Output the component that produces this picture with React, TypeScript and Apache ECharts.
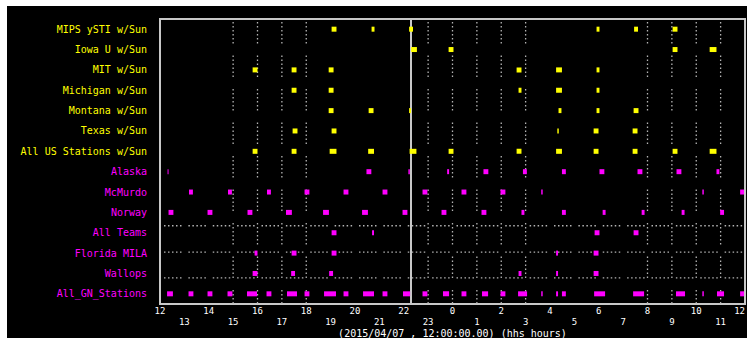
import React, { useEffect, useRef } from 'react';
import * as echarts from 'echarts';

// Row labels (top to bottom)
const rowLabels = [
  'MIPS ySTI w/Sun',
  'Iowa U w/Sun',
  'MIT w/Sun',
  'Michigan w/Sun',
  'Montana w/Sun',
  'Texas w/Sun',
  'All US Stations w/Sun',
  'Alaska',
  'McMurdo',
  'Norway',
  'All Teams',
  'Florida MILA',
  'Wallops',
  'All_GN_Stations',
];
const sunRowCount = 7;

// Passes: [start, end] in hours after 12:00
const passesMips = [[7.04, 7.24], [8.68, 8.8], [10.22, 10.38], [17.91, 18.03], [19.45, 19.61], [21.03, 21.23]];
const passesIowa = [[10.3, 10.54], [11.84, 12.04], [21.03, 21.23], [22.55, 22.83]];
const passesMit = [[3.8, 4.0], [5.4, 5.6], [6.92, 7.12], [14.63, 14.83], [16.25, 16.49], [17.91, 18.03]];
const passesMichigan = [[5.4, 5.6], [6.92, 7.12], [14.71, 14.83], [16.25, 16.49], [17.91, 18.03]];
const passesMontana = [[6.92, 7.12], [8.56, 8.76], [10.22, 10.3], [16.35, 16.47], [17.91, 18.03], [19.43, 19.63]];
const passesTexas = [[5.44, 5.64], [7.04, 7.24], [16.3, 16.36], [17.79, 17.99], [19.39, 19.59]];
const passesAllUS = [[3.8, 4.0], [5.4, 5.6], [6.96, 7.24], [8.54, 8.78], [10.24, 10.52], [11.84, 12.04], [14.63, 14.83], [16.25, 16.49], [17.79, 17.99], [19.39, 19.59], [21.03, 21.23], [22.55, 22.83]];
const passesAlaska = [[0.31, 0.35], [8.47, 8.67], [10.19, 10.25], [11.78, 11.86], [13.27, 13.47], [14.89, 15.05], [16.49, 16.65], [18.03, 18.23], [19.59, 19.79], [21.19, 21.39], [22.83, 22.95]];
const passesMcMurdo = [[1.19, 1.35], [2.79, 2.95], [4.39, 4.55], [5.93, 6.13], [7.53, 7.73], [9.13, 9.33], [10.77, 10.97], [12.37, 12.57], [13.97, 14.17], [15.64, 15.7], [22.25, 22.31], [23.8, 23.96]];
const passesNorway = [[0.35, 0.55], [1.95, 2.15], [3.59, 3.79], [5.17, 5.41], [6.69, 6.93], [8.29, 8.53], [9.95, 10.15], [11.55, 11.75], [13.19, 13.39], [14.83, 14.95], [16.49, 16.65], [18.16, 18.28], [19.76, 19.88], [21.4, 21.52], [22.98, 23.14]];
const passesAllTeams = [[7.04, 7.24], [8.7, 8.78], [17.83, 18.03], [19.43, 19.63]];
const passesFlorida = [[3.88, 4.0], [5.4, 5.6], [7.04, 7.24], [16.25, 16.33], [17.79, 17.99]];
const passesWallops = [[3.8, 4.0], [5.38, 5.54], [6.94, 7.1], [14.71, 14.83], [16.25, 16.33], [17.79, 17.99]];
const passesAllGN = [[0.29, 0.53], [1.17, 1.37], [1.95, 2.15], [2.77, 2.97], [3.57, 3.98], [4.37, 4.57], [5.21, 5.62], [5.93, 6.13], [6.73, 7.22], [7.53, 7.73], [8.33, 8.78], [9.13, 9.33], [9.97, 10.26], [10.77, 10.97], [11.61, 11.86], [12.37, 12.57], [13.21, 13.46], [13.97, 14.17], [14.69, 15.06], [15.64, 15.7], [16.25, 16.33], [16.49, 16.65], [17.81, 18.26], [19.41, 19.86], [21.17, 21.54], [22.25, 22.31], [22.85, 23.14], [23.8, 23.96]];

const passesByRow = [
  passesMips, passesIowa, passesMit, passesMichigan, passesMontana, passesTexas, passesAllUS,
  passesAlaska, passesMcMurdo, passesNorway, passesAllTeams, passesFlorida, passesWallops, passesAllGN,
];

// Hours (after 12:00) with dotted vertical guide lines
const dottedHours = [3, 4, 5, 6, 11, 12, 13, 14, 15, 20, 21, 22, 23];
// Rows with a dotted horizontal guide line
const dottedRows = [10, 11, 12];
// Current time marker (hours after 12:00)
const nowHour = 10.3;

const axisTitle = '(2015/04/07 , 12:00:00.00) (hhs hours)';

const YELLOW = '#ffff00';
const MAGENTA = '#ff00ff';
const GUIDE = '#b4b4b4';
const MONO = '"DejaVu Sans Mono", monospace';

export default function App() {
  const ref = useRef<HTMLDivElement>(null);

  useEffect(() => {
    if (!ref.current) return;
    const chart = echarts.init(ref.current, undefined, { renderer: 'svg' });

    const sunData: number[][] = [];
    const gnData: number[][] = [];
    passesByRow.forEach((passes, row) => {
      passes.forEach(([s, e]) => {
        (row < sunRowCount ? sunData : gnData).push([row, s, e]);
      });
    });

    const barRender = (color: string) => (params: any, api: any) => {
      const row = api.value(0);
      const p0 = api.coord([api.value(1), row]);
      const p1 = api.coord([api.value(2), row]);
      const h = 5;
      return {
        type: 'rect',
        shape: { x: p0[0], y: p0[1] - h / 2, width: Math.max(p1[0] - p0[0], 1), height: h },
        style: { fill: color },
      };
    };

    const vDash = [1.5, 2.5, 1.5, 2.5, 1.5, 2.5, 1.5, 2.5, 1.5, 2.5, 1.5, 12];
    const hDash = [1.5, 2.5, 1.5, 2.5, 1.5, 2.5, 1.5, 2.5, 1.5, 6.875];
    const hOffsets = [-7, -1, 4.5];

    chart.setOption({
      animation: false,
      backgroundColor: '#000',
      grid: {
        left: 153,
        top: 13,
        width: 585,
        height: 285,
        show: true,
        borderColor: '#c8c8c8',
        borderWidth: 2,
        backgroundColor: 'transparent',
        containLabel: false,
        outerBoundsMode: 'none',
      },
      xAxis: {
        type: 'value',
        min: 0,
        max: 24,
        interval: 1,
        axisLine: { show: false },
        axisTick: { show: false },
        splitLine: { show: false },
        axisLabel: {
          color: '#fff',
          fontFamily: MONO,
          fontSize: 9,
          lineHeight: 11,
          margin: 1,
          showMinLabel: true,
          showMaxLabel: true,
          alignMaxLabel: 'right',
          formatter: (v: number) => {
            const hr = (12 + Math.round(v)) % 24;
            return hr % 2 === 1 ? '\n' + hr : String(hr);
          },
        },
        name: axisTitle,
        nameLocation: 'middle',
        nameGap: 29,
        nameMoveOverlap: false,
        nameTextStyle: { color: '#fff', fontFamily: MONO, fontSize: 10, verticalAlign: 'middle' },
      },
      yAxis: {
        type: 'category',
        data: rowLabels,
        inverse: true,
        axisLine: { show: false },
        axisTick: { show: false },
        splitLine: { show: false },
        axisLabel: {
          margin: 13,
          fontFamily: MONO,
          fontSize: 10,
          formatter: (v: string, i: number) => (i < sunRowCount ? `{y|${v}}` : `{m|${v}}`),
          rich: {
            y: { color: YELLOW, fontFamily: MONO, fontSize: 10 },
            m: { color: MAGENTA, fontFamily: MONO, fontSize: 10 },
          },
        },
      },
      series: [
        {
          type: 'custom',
          z: 1,
          silent: true,
          data: dottedHours.map((h) => [h]),
          encode: { x: 0 },
          renderItem: (params: any, api: any) => {
            const cs = params.coordSys;
            const x = api.coord([api.value(0), 0])[0];
            return {
              type: 'line',
              shape: { x1: x, y1: cs.y + 3, x2: x, y2: cs.y + cs.height },
              style: { stroke: GUIDE, lineWidth: 1.3, lineDash: vDash },
            };
          },
        },
        {
          type: 'custom',
          z: 1,
          silent: true,
          data: dottedRows.map((r) => [0, r]),
          encode: { x: 0, y: 1 },
          renderItem: (params: any, api: any) => {
            const cs = params.coordSys;
            const y = api.coord([0, api.value(1)])[1] + hOffsets[params.dataIndex];
            return {
              type: 'line',
              shape: { x1: cs.x + 4, y1: y, x2: cs.x + cs.width, y2: y },
              style: { stroke: GUIDE, lineWidth: 1.3, lineDash: hDash },
            };
          },
          markLine: {
            silent: true,
            symbol: ['none', 'none'],
            label: { show: false },
            lineStyle: { color: '#c8c8c8', width: 2, type: 'solid' },
            data: [{ xAxis: nowHour }],
          },
        },
        {
          type: 'custom',
          z: 5,
          data: sunData,
          encode: { x: [1, 2], y: 0 },
          renderItem: barRender(YELLOW),
        },
        {
          type: 'custom',
          z: 5,
          data: gnData,
          encode: { x: [1, 2], y: 0 },
          renderItem: barRender(MAGENTA),
        },
      ],
    });

    return () => chart.dispose();
  }, []);

  return (
    <div style={{ position: 'fixed', left: 0, top: 0, width: 752, height: 339, background: '#fff' }}>
      <div ref={ref} style={{ position: 'absolute', left: 7, top: 6, width: 740, height: 332 }} />
    </div>
  );
}
